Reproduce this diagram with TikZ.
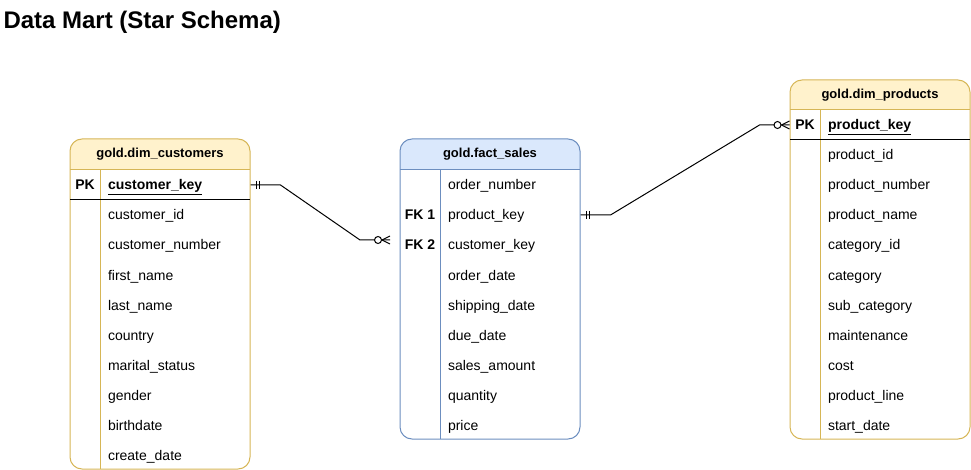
\documentclass[tikz,border=0pt]{standalone}
\usepackage{fontspec}
\setmainfont{Liberation Sans}
\usetikzlibrary{positioning}

\definecolor{dimfill}{HTML}{FFF2CC}
\definecolor{dimline}{HTML}{D6B656}
\definecolor{factfill}{HTML}{DAE8FC}
\definecolor{factline}{HTML}{6C8EBF}

\tikzset{
	field/.style={minimum height=30pt, inner xsep=8pt, inner ysep=0pt, text width=134pt, align=left,
		text height=12pt, text depth=2pt, font=\fontsize{14}{16}\selectfont},
	factfield/.style={field, text width=124pt},
	keycol/.style={minimum width=30pt, minimum height=30pt, inner sep=0pt,
		text height=12pt, text depth=2pt, font=\bfseries\fontsize{14}{16}\selectfont},
	factkey/.style={keycol, minimum width=40pt},
	header/.style={inner sep=0pt, text height=10pt, text depth=3pt, font=\bfseries\fontsize{13}{15}\selectfont},
}

\begin{document}
\begin{tikzpicture}[x=1pt, y=-1pt, node distance=30pt, on grid, line width=1pt]
\useasboundingbox (0,0) rectangle (971,470);

% Title
	\node (title) [anchor=base west, inner sep=0pt, font=\bfseries\fontsize{24}{28}\selectfont] at (3,28.5) {Data Mart (Star Schema)};

% Table frames
	\fill[dimfill, rounded corners=12pt] (70,139) rectangle (250,170);
	\fill[dimfill] (70,158) rectangle (250,170);
	\draw[dimline, rounded corners=12pt] (70,139) rectangle (250,469);
	\draw[dimline] (70,170) -- (250,170);
	\draw[dimline] (100,170) -- (100,469);
	\draw (70,200) -- (250,200);

	\fill[factfill, rounded corners=12pt] (400,139) rectangle (580,170);
	\fill[factfill] (400,158) rectangle (580,170);
	\draw[factline, rounded corners=12pt] (400,139) rectangle (580,439);
	\draw[factline] (400,170) -- (580,170);
	\draw[factline] (440,170) -- (440,439);

	\fill[dimfill, rounded corners=12pt] (790,80) rectangle (970,110);
	\fill[dimfill] (790,99) rectangle (970,110);
	\draw[dimline, rounded corners=12pt] (790,80) rectangle (970,439);
	\draw[dimline] (790,110) -- (970,110);
	\draw[dimline] (820,110) -- (820,439);
	\draw (790,140) -- (970,140);

% Headers
	\node (h_cust)	[header] at (160,154.5)	{gold.dim\_customers};
	\node (h_fact)	[header] at (490,154.5)	{gold.fact\_sales};
	\node (h_prod)	[header] at (880,95)		{gold.dim\_products};

% Customer rows
	\node (c_key)		[field] at (175,185)			{\underline{\textbf{customer\_key}}};
	\node (c_id)		[field, below=of c_key]		{customer\_id};
	\node (c_num)		[field, below=of c_id]		{customer\_number};
	\node (c_first)		[field, below=of c_num]		{first\_name};
	\node (c_last)		[field, below=of c_first]		{last\_name};
	\node (c_country)	[field, below=of c_last]		{country};
	\node (c_marital)	[field, below=of c_country]	{marital\_status};
	\node (c_gender)	[field, below=of c_marital]	{gender};
	\node (c_birth)		[field, below=of c_gender]	{birthdate};
	\node (c_create)	[field, below=of c_birth]		{create\_date};
	\node (pk_cust)		[keycol, left=90pt of c_key]	{PK};

% Fact rows
	\node (f_order)		[factfield] at (510,185)			{order\_number};
	\node (f_prodkey)	[factfield, below=of f_order]		{product\_key};
	\node (f_custkey)	[factfield, below=of f_prodkey]		{customer\_key};
	\node (f_odate)		[factfield, below=of f_custkey]		{order\_date};
	\node (f_ship)		[factfield, below=of f_odate]		{shipping\_date};
	\node (f_due)		[factfield, below=of f_ship]		{due\_date};
	\node (f_amount)	[factfield, below=of f_due]			{sales\_amount};
	\node (f_qty)		[factfield, below=of f_amount]		{quantity};
	\node (f_price)		[factfield, below=of f_qty]			{price};
	\node (fk1)			[factkey, left=90pt of f_prodkey]	{FK 1};
	\node (fk2)			[factkey, left=90pt of f_custkey]	{FK 2};

% Product rows
	\node (p_key)		[field] at (895,125)				{\underline{\textbf{product\_key}}};
	\node (p_id)		[field, below=of p_key]			{product\_id};
	\node (p_num)		[field, below=of p_id]			{product\_number};
	\node (p_name)		[field, below=of p_num]			{product\_name};
	\node (p_catid)		[field, below=of p_name]			{category\_id};
	\node (p_cat)		[field, below=of p_catid]			{category};
	\node (p_subcat)	[field, below=of p_cat]			{sub\_category};
	\node (p_maint)		[field, below=of p_subcat]		{maintenance};
	\node (p_cost)		[field, below=of p_maint]			{cost};
	\node (p_line)		[field, below=of p_cost]			{product\_line};
	\node (p_start)		[field, below=of p_line]			{start\_date};
	\node (pk_prod)		[keycol, left=90pt of p_key]		{PK};

% Relations
	\coordinate (sales_in) at (390,240);

	\draw (c_key.east) -- ++(30,0) -- ([xshift=-30pt]sales_in) -- (sales_in);
	\draw ([xshift=6pt]c_key.east) ++(0,-4) -- ++(0,8);
	\draw ([xshift=9pt]c_key.east) ++(0,-4) -- ++(0,8);
	\draw ([xshift=-8pt]sales_in) -- ([yshift=-4pt]sales_in);
	\draw ([xshift=-8pt]sales_in) -- ([yshift=4pt]sales_in);
	\draw[fill=white] ([xshift=-12pt]sales_in) circle[radius=3.5pt];

	\draw (f_prodkey.east) -- ++(30,0) -- ([xshift=-30pt]pk_prod.west) -- (pk_prod.west);
	\draw ([xshift=6pt]f_prodkey.east) ++(0,-4) -- ++(0,8);
	\draw ([xshift=9pt]f_prodkey.east) ++(0,-4) -- ++(0,8);
	\draw ([xshift=-8pt]pk_prod.west) -- ([yshift=-4pt]pk_prod.west);
	\draw ([xshift=-8pt]pk_prod.west) -- ([yshift=4pt]pk_prod.west);
	\draw[fill=white] ([xshift=-12pt]pk_prod.west) circle[radius=3.5pt];

\end{tikzpicture}
\end{document}
